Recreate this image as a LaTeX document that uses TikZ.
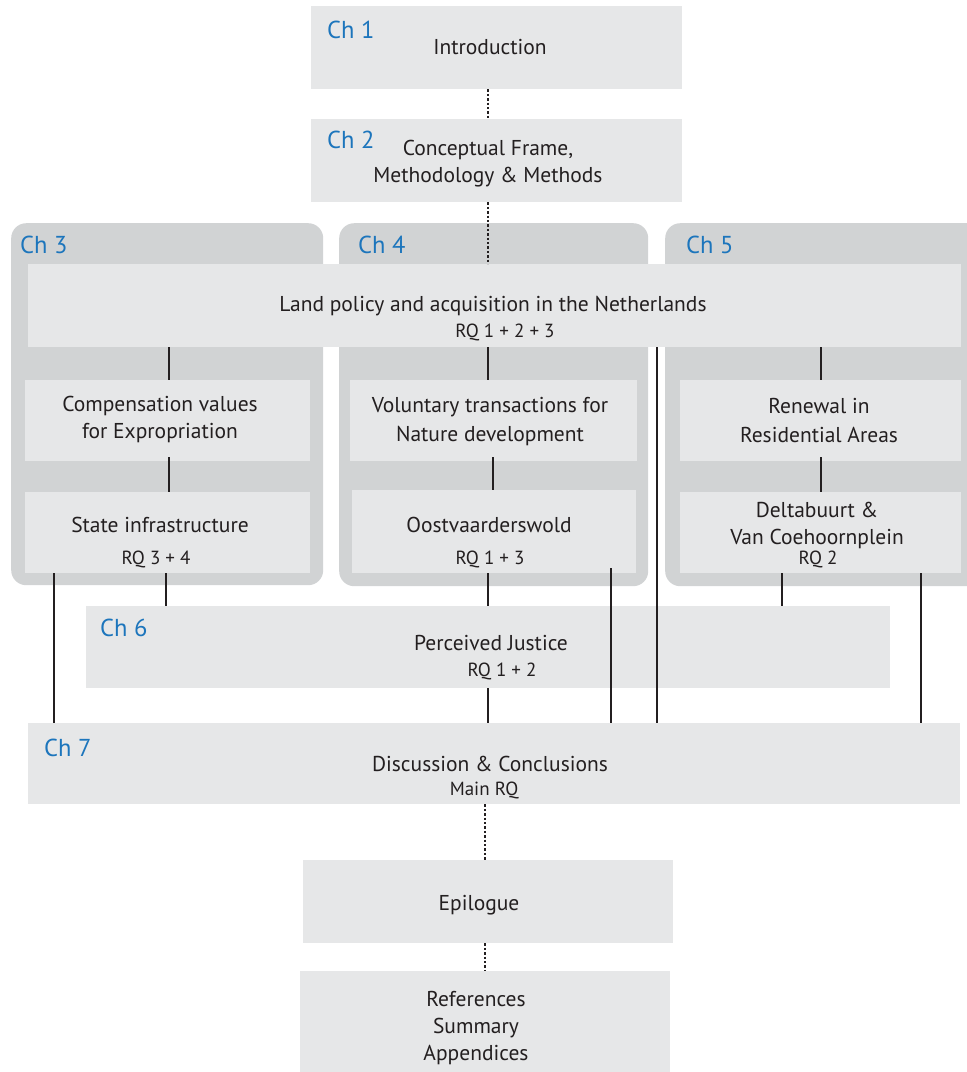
\documentclass[tikz,border=0pt]{standalone}
\usepackage{fontspec}
\setmainfont{PT Sans}
\usetikzlibrary{positioning}
\definecolor{boxgray}{HTML}{E6E7E8}
\definecolor{framegray}{HTML}{D1D3D4}
\definecolor{chblue}{HTML}{1C75BC}
\definecolor{inkdark}{HTML}{231F20}

\begin{document}
\begin{tikzpicture}[x=1pt,y=-1pt,
	box/.style={fill=boxgray, inner sep=0pt, anchor=north west},
	frame/.style={fill=framegray, rounded corners=15pt, inner sep=0pt, anchor=north west},
	txt/.style={text=inkdark, font=\fontsize{21.5}{27}\selectfont, align=center, inner sep=0pt, anchor=base},
	rq/.style={text=inkdark, font=\fontsize{19}{23}\selectfont, inner sep=0pt, anchor=base},
	chap/.style={text=chblue, font=\fontsize{24.5}{30}\selectfont, inner sep=0pt, anchor=base west},
	link/.style={inkdark, line width=1.2pt},
	dots/.style={inkdark, line width=1.2pt, dash pattern=on 2.4pt off 2pt}]
		
		\useasboundingbox (0,0) rectangle (967,1072);
		\clip (0,0) rectangle (967,1072);
		
		% chapter frames
		\node[frame, minimum width=312pt, minimum height=362pt] (frame3) at (11,223) {};
		\node[frame, minimum width=309pt, minimum height=363pt] (frame4) at (339,223) {};
		\node[frame, minimum width=330pt, minimum height=363pt] (frame5) at (665,223) {};
		
		% boxes
		\node[box, minimum width=371pt, minimum height=83pt] (intro) at (311,6) {};
		\node[box, minimum width=371pt, minimum height=83pt] (concept) at (311,119) {};
		\node[box, minimum width=933pt, minimum height=83pt] (land) at (28,264) {};
		\node[box, minimum width=285pt, minimum height=81pt] (comp) at (25,380) {};
		\node[box, minimum width=285pt, minimum height=81pt] (state) at (25,492) {};
		\node[box, minimum width=287pt, minimum height=81pt] (volun) at (350,380) {};
		\node[box, minimum width=284pt, minimum height=83pt] (oost) at (352,490) {};
		\node[box, minimum width=281pt, minimum height=81pt] (renew) at (680,380) {};
		\node[box, minimum width=281pt, minimum height=81pt] (delta) at (680,492) {};
		\node[box, minimum width=804pt, minimum height=82pt] (justice) at (86,606) {};
		\node[box, minimum width=932pt, minimum height=81pt] (discuss) at (28,723) {};
		\node[box, minimum width=370pt, minimum height=83pt] (epilog) at (303,860) {};
		\node[box, minimum width=370pt, minimum height=110pt] (refs) at (300,971) {};
		
		% chapter labels
		\node[chap] (ch1) at (327,38) {Ch 1};
		\node[chap] (ch2) at (327,148) {Ch 2};
		\node[chap] (ch3) at (20,253) {Ch 3};
		\node[chap] (ch4) at (358,253) {Ch 4};
		\node[chap] (ch5) at (686,253) {Ch 5};
		\node[chap] (ch6) at (100,636) {Ch 6};
		\node[chap] (ch7) at (44,756) {Ch 7};
		
		% texts (base = last line)
		\node[txt] (introtext) at (490,54) {Introduction};
		\node[txt] (concepttext) at (488,182) {Conceptual Frame,\\Methodology \& Methods};
		\node[txt] (landtext) at (493,311) {Land policy and acquisition in the Netherlands};
		\node[rq] (landrq) at (505,337) {RQ 1 + 2 + 3};
		\node[txt] (comptext) at (160,438) {Compensation values\\for Expropriation};
		\node[txt] (statetext) at (160,532) {State infrastructure};
		\node[rq] (staterq) at (156,564) {RQ 3 + 4};
		\node[txt, text depth=0pt] (voluntext) at (490,441) {Voluntary transactions for\\[2pt]Nature development};
		\node[txt] (oosttext) at (489,532) {Oostvaarderswold};
		\node[rq] (oostrq) at (490,564) {RQ 1 + 3};
		\node[txt] (renewtext) at (819,442) {Renewal in\\[2pt]Residential Areas};
		\node[txt] (deltatext) at (817,544) {Deltabuurt \&\\Van Coehoornplein};
		\node[rq] (deltarq) at (818,564) {RQ 2};
		\node[txt] (justicetext) at (491,650) {Perceived Justice};
		\node[rq] (justicerq) at (502,676) {RQ 1 + 2};
		\node[txt] (discusstext) at (490,771) {Discussion \& Conclusions};
		\node[rq] (discussrq) at (484,795) {Main RQ};
		\node[txt] (epilogtext) at (479,910) {Epilogue};
		\node[txt] (refstext) at (476,1060) {References\\Summary\\Appendices};
		
		% columns for the connectors
		\coordinate (xmid) at (488,0);
		\coordinate (xa) at (54,0);
		\coordinate (xb) at (166,0);
		\coordinate (xc) at (169,0);
		\coordinate (xd) at (493,0);
		\coordinate (xe) at (611,0);
		\coordinate (xf) at (657,0);
		\coordinate (xg) at (782,0);
		\coordinate (xh) at (821,0);
		\coordinate (xi) at (921,0);
		\coordinate (xlow) at (485,0);
		
		\draw[dots] (intro.south -| xmid) -- (concept.north -| xmid);
		\draw[dots] (concept.south -| xmid) -- (land.north -| xmid);
		\draw[link] (land.south -| xc) -- (comp.north -| xc);
		\draw[link] ([yshift=4pt]comp.south -| xc) -- (state.north -| xc);
		\draw[link] (land.south -| xmid) -- (volun.north -| xmid);
		\draw[link] ([yshift=4pt]volun.south -| xd) -- (oost.north -| xd);
		\draw[link] (land.south -| xh) -- (renew.north -| xh);
		\draw[link] ([yshift=4pt]renew.south -| xh) -- (delta.north -| xh);
		\draw[link] (state.south -| xa) -- (discuss.north -| xa);
		\draw[link] (state.south -| xb) -- (justice.north -| xb);
		\draw[link] (oost.south -| xmid) -- (justice.north -| xmid);
		\draw[link] ([yshift=5pt]oost.south -| xe) -- (discuss.north -| xe);
		\draw[link] (land.south -| xf) -- (discuss.north -| xf);
		\draw[link] (delta.south -| xg) -- (justice.north -| xg);
		\draw[link] (delta.south -| xi) -- (discuss.north -| xi);
		\draw[link] (justice.south -| xmid) -- (discuss.north -| xmid);
		\draw[dots] (discuss.south -| xlow) -- (epilog.north -| xlow);
		\draw[dots] (epilog.south -| xlow) -- (refs.north -| xlow);
		
	\end{tikzpicture}
\end{document}
